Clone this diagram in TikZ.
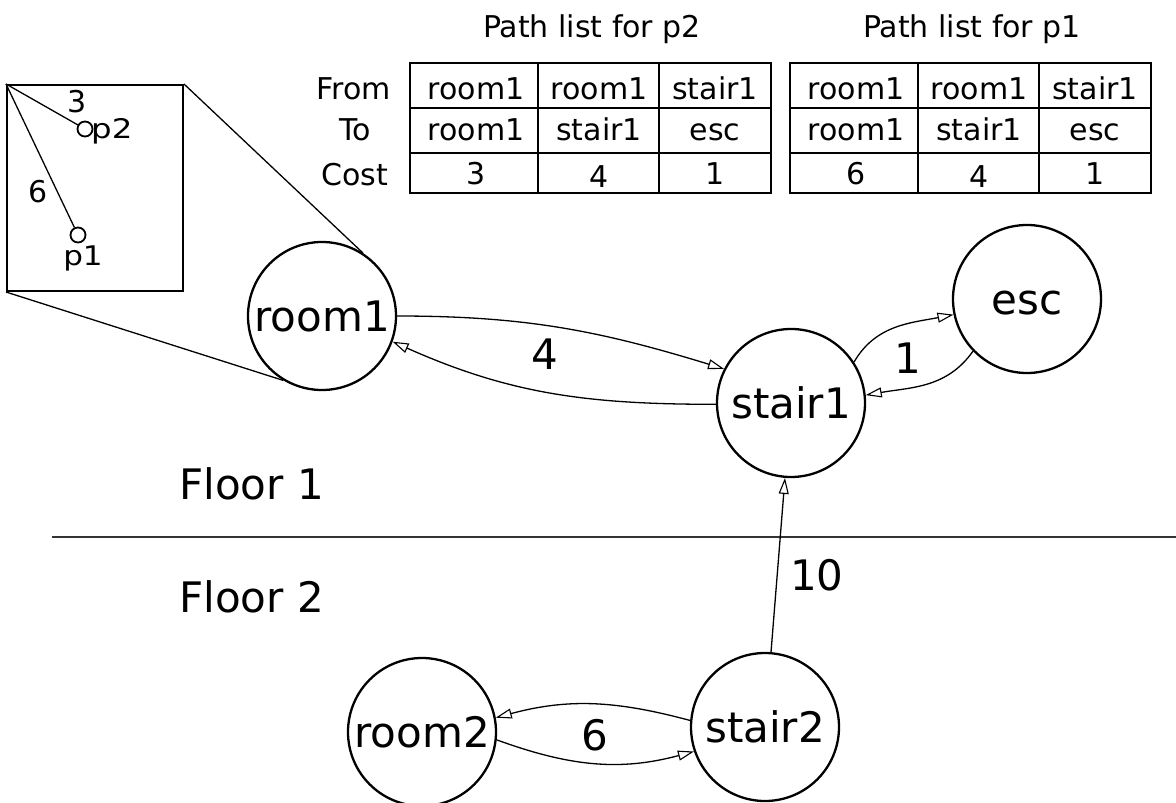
\documentclass[tikz,border=0pt]{standalone}
\usepackage{fontspec}
\setmainfont{DejaVu Sans}
\usetikzlibrary{arrows.meta}

\begin{document}
\begin{tikzpicture}[x=1pt,y=1pt,
  state/.style={circle, draw, line width=2.3pt, minimum size=148pt, inner sep=0pt,
    text height=30.6pt, text depth=0pt, font=\fontsize{42}{50}\selectfont},
  big/.style={font=\fontsize{42}{50}\selectfont, inner sep=0pt, anchor=base},
  cell/.style={font=\fontsize{30}{36}\selectfont, inner sep=0pt, anchor=base},
  small/.style={font=\fontsize{30}{36}\selectfont, inner sep=0pt, anchor=base},
  tag/.style={font=\fontsize{27}{32}\selectfont, inner sep=0pt, anchor=base},
  marker/.style={circle, draw, line width=1.8pt, minimum size=15pt, inner sep=0pt},
  thin/.style={line width=1.3pt},
  link/.style={thin, -{Triangle[open, length=16pt, width=10pt, line width=1.1pt]}},
]
\useasboundingbox (0,0) rectangle (1176,-803);

% floor separator and floor names
\coordinate (fl) at (52,-537);
\coordinate (fr) at (1176,-537);
\draw[line width=1.3pt, black!80] (fl) -- (fr);
\node[big, anchor=base west] (floor1) at (179,-499) {Floor 1};
\node[big, anchor=base west] (floor2) at (179,-612) {Floor 2};

% locations
\node[state] (room1)  at (322,-316) {room1};
\node[state] (stair1) at (791,-403) {stair1};
\node[state] (esc)    at (1027,-299) {esc};
\node[state] (stair2) at (765,-727) {stair2};
\node[state] (room2)  at (422,-732) {room2};

% connections with costs
\draw[link] (room1.0) to[out=0, in=163] (stair1.153);
\draw[link] (stair1.181) to[out=180, in=-24] (room1.-20);
\node[big] (c4) at (545,-369) {4};

\draw[link] (stair1.33) to[out=60, in=191] (esc.192);
\draw[link] (esc.224) to[out=235, in=10] (stair1.6);
\node[big] (c1) at (908,-373) {1};

\draw[link] (stair2) -- (stair1);
\node[big] (c10) at (817,-590) {10};

\draw[link] (stair2.175) to[out=165, in=15] (room2.11);
\draw[link] (room2.-6) to[out=-20, in=195] (stair2.199);
\node[big] (c6) at (595,-750) {6};

% zoomed view of room1
\node[draw, line width=2pt, minimum width=176pt, minimum height=206pt, inner sep=0pt]
  (inset) at (95,-188) {};
\draw[thin] (inset.north east) -- (room1.57);
\draw[thin] (inset.south west) -- (room1.239);
\node[marker] (p2m) at (85,-129) {};
\node[marker] (p1m) at (78,-235) {};
\draw[thin] (inset.north west) -- (p2m);
\draw[thin] (inset.north west) -- (p1m);
\node[tag, anchor=base west] (p2t) at (91,-138) {\scalebox{1.2}[1]{p2}};
\node[tag] (p1t) at (83,-265) {\scalebox{1.15}[1]{p1}};
\node[small] (d3) at (77,-112) {3};
\node[small] (d6) at (38,-202) {6};

% path lists
\node[cell] (rowfrom) at (354,-99) {From};
\node[cell] (rowto)   at (355,-140) {To};
\node[cell] (rowcost) at (355,-185) {Cost};

\foreach \tx/\ca/\cb/\cc/\who in {410/3/4/1/p2, 790/6/4/1/p1} {
  \node[cell] (title-\who) at (\tx+182,-37) {Path list for \who};
  \draw[line width=2pt] (\tx,-63) rectangle (\tx+361,-193);
  \draw[line width=1.5pt] (\tx,-108) -- (\tx+361,-108)
                          (\tx,-153) -- (\tx+361,-153)
                          (\tx+128,-63) -- (\tx+128,-193)
                          (\tx+249,-63) -- (\tx+249,-193);
  \node[cell] (f1-\who) at (\tx+66,-99)  {room1};
  \node[cell] (f2-\who) at (\tx+189,-99) {room1};
  \node[cell] (f3-\who) at (\tx+305,-99) {stair1};
  \node[cell] (t1-\who) at (\tx+66,-140)  {room1};
  \node[cell] (t2-\who) at (\tx+189,-140) {stair1};
  \node[cell] (t3-\who) at (\tx+305,-140) {esc};
  \node[cell] (k1-\who) at (\tx+66,-184)  {\ca};
  \node[cell] (k2-\who) at (\tx+189,-187) {\cb};
  \node[cell] (k3-\who) at (\tx+305,-184) {\cc};
}
\end{tikzpicture}
\end{document}
